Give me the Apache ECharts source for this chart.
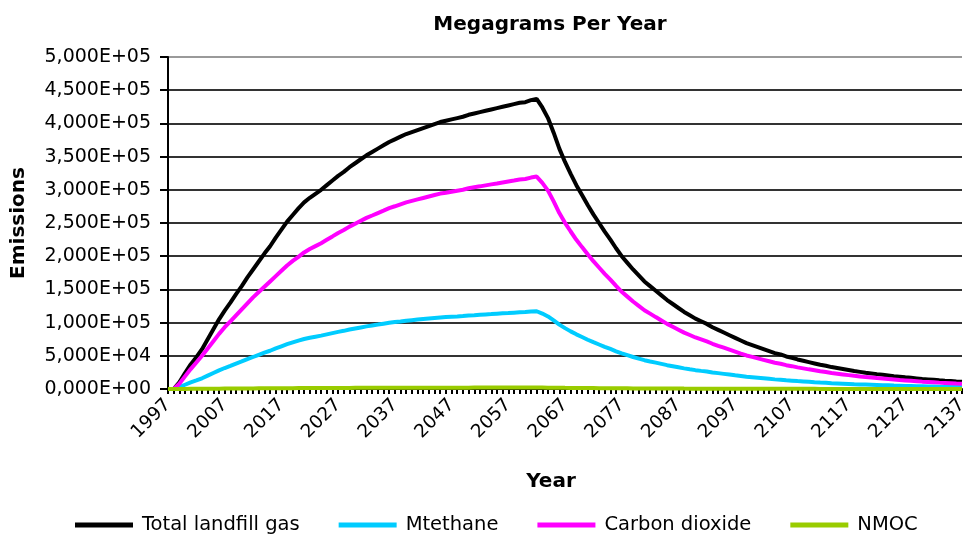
<!DOCTYPE html>
<html><head><meta charset="utf-8">
<script src="https://cdn.jsdelivr.net/npm/echarts@6/dist/echarts.min.js"></script>
<style>html,body{margin:0;padding:0;background:#fff}#c{width:963px;height:534px}</style>
</head><body><div id="c"></div>
<script>
const firstYear = 1997, lastYear = 2137;
const years = [];
for (let y = firstYear; y <= lastYear; y++) years.push(String(y));

const seriesNames = ['Total landfill gas', 'Mtethane', 'Carbon dioxide', 'NMOC'];

const totalGas = [0,0,10000,24000,37000,48000,60000,75000,90000,105000,
118000,130000,143000,155000,168000,180000,192000,204000,215000,228000,
240000,252000,262000,272000,281000,288000,294000,300000,307000,314000,
321000,327000,334000,340000,346000,352000,357000,362000,367000,372000,
376000,380000,384000,387000,390000,393000,396000,399000,402000,404000,
406000,408000,410000,413000,415000,417000,419000,421000,423000,425000,
427000,429000,431000,432000,435000,437000,
424000,408000,386000,362000,342000,324000,307000,292000,277000,263000,
250000,237000,225000,212000,200000,190000,180000,171000,162000,155000,
148000,141000,134000,128000,122000,116000,111000,106000,102000,98000,
93000,89000,85000,81000,77000,73000,69000,66000,63000,60000,
57000,54000,52000,49000,47000,44500,42500,40500,38500,36500,
35000,33000,31500,30000,28500,27000,25800,24500,23500,22400,
21400,20400,19400,18500,17600,16800,16000,15200,14500,13800,
13100,12500,12000,11400,10900];

const methane = [0,0,2700,6400,9900,12900,16100,20100,24100,28100,
31600,34800,38300,41500,45000,48200,51500,54700,57600,61100,
64300,67500,70200,72900,75300,77200,78800,80400,82300,84200,
86000,87600,89500,91100,92700,94300,95700,97000,98400,99700,
100800,101800,102900,103700,104500,105300,106100,106900,107700,108300,
108800,109300,109900,110700,111200,111800,112300,112800,113400,113900,
114400,115000,115500,115800,116600,117100,
113600,109300,103400,97000,91700,86800,82300,78300,74200,70500,
67000,63500,60300,56800,53600,50900,48200,45800,43400,41500,
39700,37800,35900,34300,32700,31100,29700,28400,27300,26300,
24900,23900,22800,21700,20600,19600,18500,17700,16900,16100,
15300,14500,13900,13100,12600,11900,11400,10900,10300,9800,
9400,8800,8400,8000,7600,7200,6900,6600,6300,6000,
5700,5500,5200,5000,4700,4500,4300,4100,3900,3700,
3500,3400,3200,3100,2900];

const carbonDioxide = [0,0,8000,19000,30000,40000,50000,61000,72000,83000,
93000,102000,111000,120000,129000,138000,146000,154000,162000,170000,
178000,186000,193000,199100,205700,210800,215200,219600,224700,229800,
235000,239400,244500,248900,253300,257700,261300,265000,268600,272300,
275200,278200,281100,283300,285500,287700,289900,292100,294300,295700,
297200,298700,300100,302300,303800,305200,306700,308200,309600,311100,
312600,314000,315500,316200,318400,319900,
310400,298700,282600,265000,250300,237200,224700,213700,202800,192500,
183000,173500,164700,155200,146400,139100,131800,125200,118600,113500,
108300,103200,98100,93700,89300,84900,81300,77600,74700,71700,
68100,65100,62200,59300,56400,53400,50500,48300,46100,43900,
41700,39500,38100,35900,34400,32600,31100,29600,28200,26700,
25600,24200,23100,22000,20900,19800,18900,17900,17200,16400,
15700,14900,14200,13500,12900,12300,11700,11100,10600,10100,
9600,9200,8800,8300,8000];

const nmoc = [0,0,50,120,190,240,300,380,450,530,
590,650,720,780,840,900,960,1020,1080,1140,
1200,1260,1310,1360,1410,1440,1470,1500,1540,1570,
1610,1640,1670,1700,1730,1760,1790,1810,1840,1860,
1880,1900,1920,1940,1950,1970,1980,2000,2010,2020,
2030,2040,2050,2070,2080,2090,2100,2110,2120,2130,
2140,2150,2160,2160,2180,2190,
2120,2040,1930,1810,1710,1620,1540,1460,1390,1320,
1250,1190,1130,1060,1000,950,900,860,810,780,
740,710,670,640,610,580,560,530,510,490,
470,450,430,410,390,370,350,330,320,300,
290,270,260,250,240,220,210,200,190,180,
180,170,160,150,140,140,130,120,120,110,
110,100,100,90,90,80,80,80,70,70,
70,60,60,60,50];

const yMin = 0, yMax = 500000, yStep = 50000;
const colors = ['#000000', '#00CCFF', '#FF00FF', '#99CC00'];
const FONT = 'DejaVu Sans';

function fmtSci(v) {
  const s = Number(v).toExponential(3);
  const parts = s.split('e');
  const mant = parts[0].replace('.', ',');
  let exp = parseInt(parts[1], 10);
  const sign = exp < 0 ? '-' : '+';
  exp = Math.abs(exp);
  return mant + 'E' + sign + (exp < 10 ? '0' + exp : String(exp));
}

const gridColors = ['#333','#333','#333','#333','#333','#333','#333','#333','#333','#333','#9a9a9a'];

const chart = echarts.init(document.getElementById('c'), null, {renderer: 'canvas'});
const dataSets = [totalGas, methane, carbonDioxide, nmoc];
chart.setOption({
  animation: false,
  backgroundColor: '#ffffff',
  textStyle: {fontFamily: FONT, color: '#000'},
  title: {
    text: 'Megagrams Per Year',
    left: 545, top: 10, textAlign: 'center',
    textStyle: {fontFamily: FONT, fontSize: 20, fontWeight: 'bold', color: '#000'}
  },
  legend: {
    data: seriesNames,
    left: 70, top: 510,
    icon: 'rect',
    itemWidth: 58, itemHeight: 5, itemGap: 39,
    textStyle: {fontFamily: FONT, fontSize: 19.5, color: '#000', padding: [0, 0, 0, 4]}
  },
  grid: {left: 168, right: 1, top: 57, bottom: 145, containLabel: false, outerBoundsMode: 'none'},
  xAxis: {
    type: 'category',
    data: years,
    boundaryGap: false,
    name: 'Year',
    nameLocation: 'middle',
    nameGap: 83,
    nameTextStyle: {fontFamily: FONT, fontSize: 20, fontWeight: 'bold', color: '#000', padding: [0, 28, 0, 0]},
    axisLine: {lineStyle: {color: '#000', width: 2}},
    axisTick: {show: true, interval: 0, length: 5, lineStyle: {color: '#000', width: 2}},
    axisLabel: {interval: 9, rotate: 45, fontFamily: FONT, fontSize: 18.5, color: '#000', margin: 13},
    splitLine: {show: false}
  },
  yAxis: {
    type: 'value',
    min: yMin, max: yMax, interval: yStep,
    name: 'Emissions',
    nameLocation: 'middle',
    nameGap: 139,
    nameRotate: 90,
    nameTextStyle: {fontFamily: FONT, fontSize: 20, fontWeight: 'bold', color: '#000'},
    axisLine: {show: true, lineStyle: {color: '#000', width: 2}},
    axisTick: {show: true, inside: false, length: 8, lineStyle: {color: '#000', width: 2}},
    axisLabel: {fontFamily: FONT, fontSize: 19, color: '#000', margin: 17, formatter: fmtSci},
    splitLine: {show: true, lineStyle: {color: gridColors, width: 2}}
  },
  series: seriesNames.map((n, i) => ({
    name: n,
    type: 'line',
    data: dataSets[i],
    showSymbol: false,
    symbol: 'none',
    lineStyle: {color: colors[i], width: 4},
    itemStyle: {color: colors[i]}
  }))
});
</script></body></html>
